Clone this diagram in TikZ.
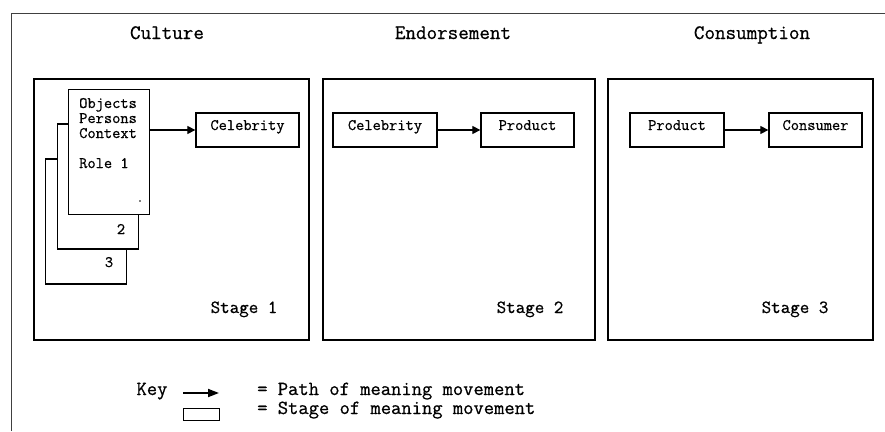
\documentclass[tikz,border=0pt]{standalone}
\usepackage{fontspec}
\newfontfamily\cour{Latin Modern Mono}[FakeBold=0.7]
\usetikzlibrary{arrows.meta}
\begin{document}
\begin{tikzpicture}[x=1pt,y=-1pt,
  stagebox/.style={draw, line width=2.6pt, inner sep=0pt},
  smallbox/.style={draw, line width=1.3pt, minimum height=34pt, inner sep=0pt,
    text height=6pt, text depth=6pt, font=\cour\fontsize{16}{18}\selectfont},
  card/.style={draw, fill=white, line width=1.3pt, inner sep=0pt,
    minimum width=81pt, minimum height=125pt},
  flow/.style={-{Triangle[length=8pt,width=8pt]}, line width=1.2pt},
  keyflow/.style={-{Triangle[length=11pt,width=8pt]}, line width=1.8pt},
  title/.style={anchor=base, inner sep=0pt, font=\cour\fontsize{20.5}{22}\selectfont},
  stagelabel/.style={anchor=base, inner sep=0pt, font=\cour\fontsize{18.5}{20}\selectfont},
  cardtext/.style={anchor=base west, inner sep=0pt, font=\cour\fontsize{16}{18}\selectfont},
  keytext/.style={anchor=base west, inner sep=0pt, font=\cour\fontsize{20}{22}\selectfont},
  frame/.style={draw=black!75, line width=1pt}
]
\useasboundingbox (0,0) rectangle (885,431);

% outer frame
\draw[frame] (11,431) -- (11,13) -- (885,13);

% titles
\node[title] (tculture) at (167,39) {Culture};
\node[title] (tendorse) at (453,39) {Endorsement};
\node[title] (tconsume) at (752,39) {Consumption};

% stage boxes
\node[stagebox, minimum width=275pt, minimum height=261pt] (s1) at (171.5,209.5) {};
\node[stagebox, minimum width=272pt, minimum height=261pt] (s2) at (459,209.5) {};
\node[stagebox, minimum width=265pt, minimum height=261pt] (s3) at (740.5,209.5) {};

% stage labels
\node[stagelabel] (l1) at (244,313) {Stage 1};
\node[stagelabel] (l2) at (530,313) {Stage 2};
\node[stagelabel] (l3) at (795,313) {Stage 3};

% role cards
\node[card] (card3) at (86,221.5) {};
\node[card] (card2) at (98,186.5) {};
\node[card] (card1) at (109,152) {};
\node[cardtext] (tobj) at (79,108) {Objects};
\node[cardtext] (tper) at (79,123) {Persons};
\node[cardtext] (tcon) at (79,138) {Context};
\node[cardtext] (trole) at (79,168) {Role 1};
\node[cardtext, anchor=base] (n2) at (121,234) {2};
\node[cardtext, anchor=base] (n3) at (109,267) {3};
\fill (140,201) circle (0.8pt);

% small boxes
\node[smallbox, minimum width=103pt] (c1) at (247.5,130) {Celebrity};
\node[smallbox, minimum width=104pt] (c2) at (385,130) {Celebrity};
\node[smallbox, minimum width=93pt] (p2) at (527.5,130) {Product};
\node[smallbox, minimum width=94pt] (p3) at (677,130) {Product};
\node[smallbox, minimum width=93pt] (u3) at (815.5,130) {Consumer};

% flows
\draw[flow] (c1.west -| card1.east) -- (c1.west);
\draw[flow] (c2.east) -- (p2.west);
\draw[flow] (p3.east) -- (u3.west);

% key
\node[keytext, anchor=base] (key) at (152,395) {Key};
\coordinate (ka) at (183,393);
\coordinate (kb) at (219,393);
\draw[keyflow] (ka) -- (kb);
\node[draw, line width=1pt, minimum width=36pt, minimum height=12pt, inner sep=0pt] (krect) at (201.5,414) {};
\node[keytext] (kpath) at (257,395) {= Path of meaning movement};
\node[keytext] (kstage) at (257,414) {= Stage of meaning movement};
\end{tikzpicture}
\end{document}
